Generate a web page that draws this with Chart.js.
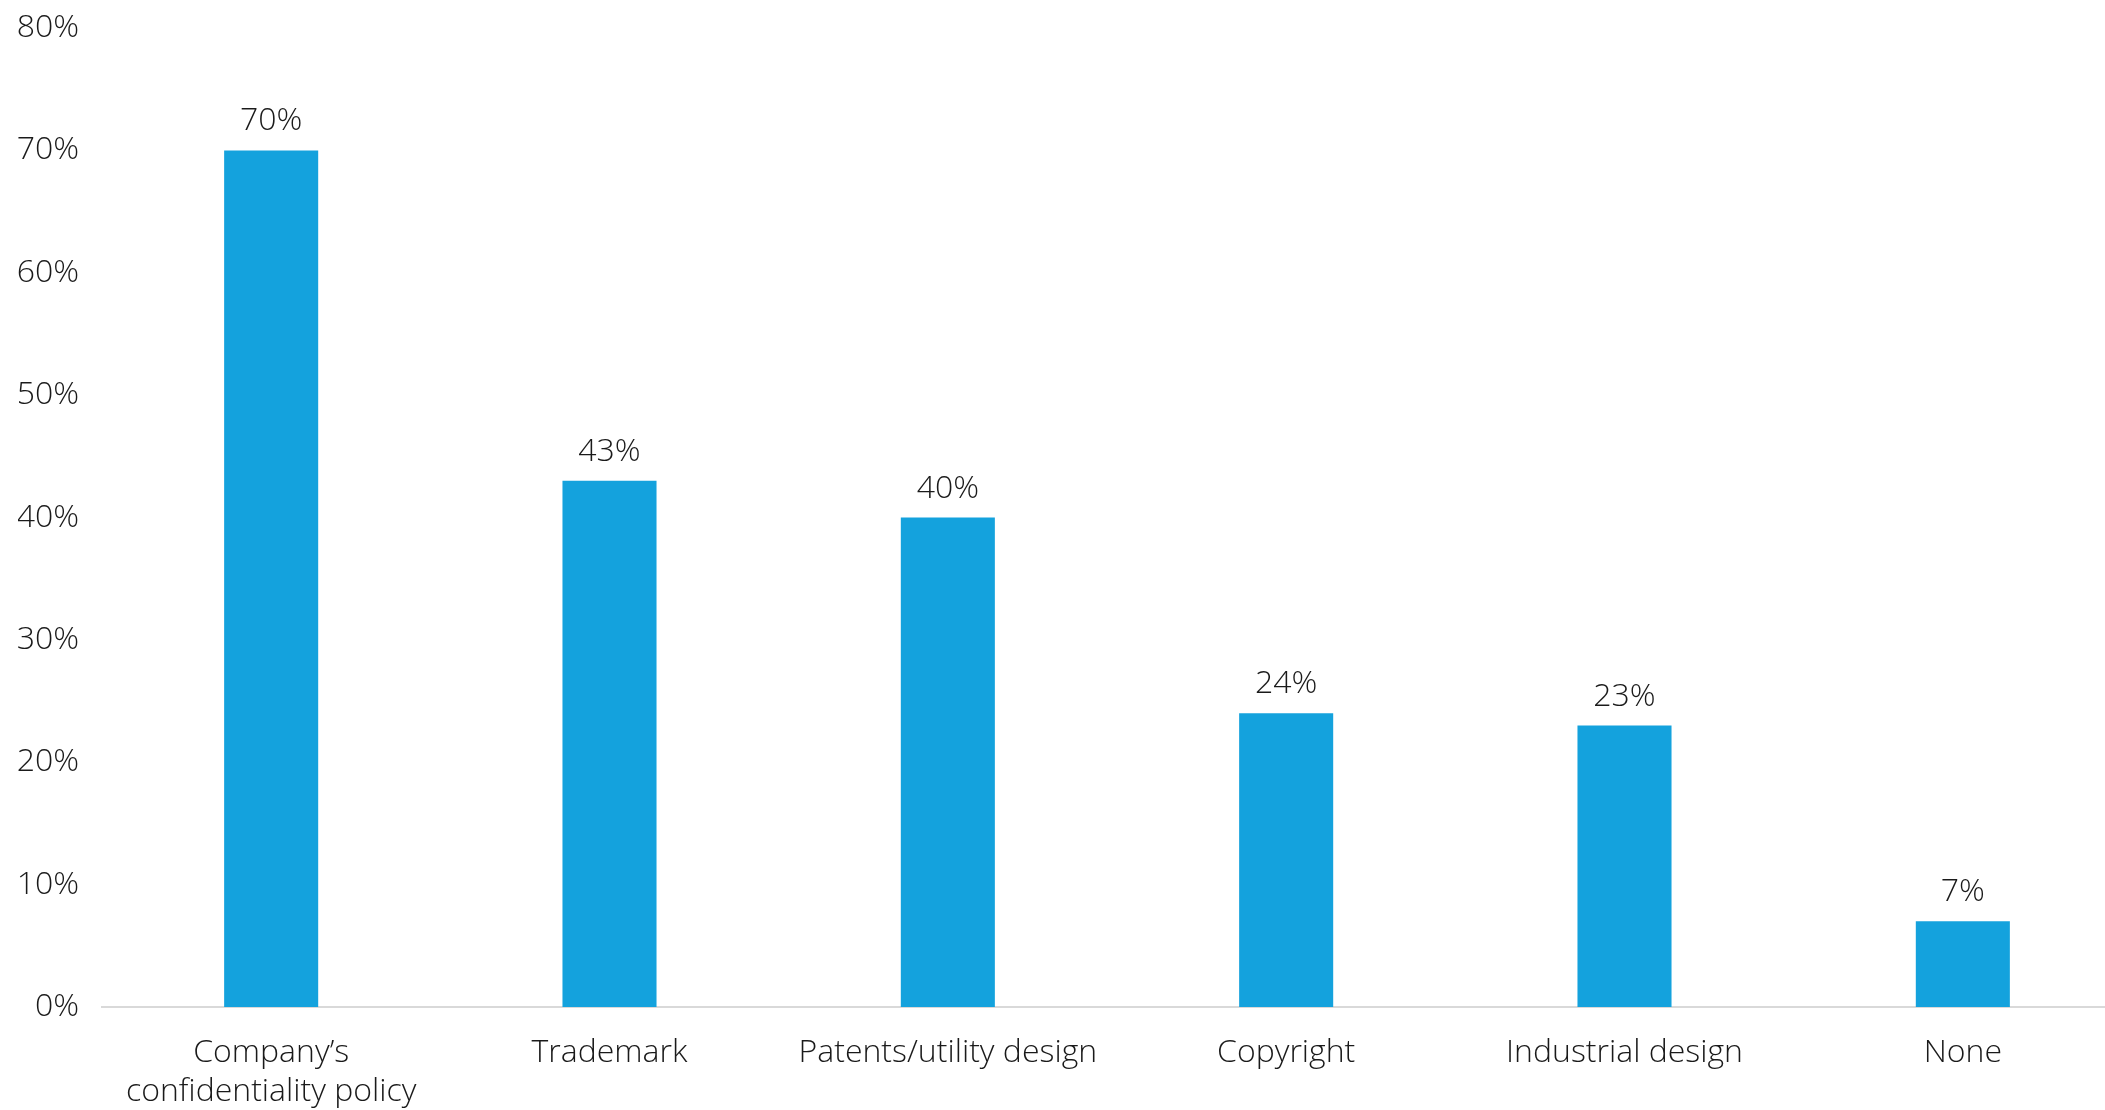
<!DOCTYPE html>
<html lang="en">
<head>
    <meta charset="UTF-8">
    <title>IP protection methods</title>
    <style>
        html, body { margin: 0; padding: 0; background: #ffffff; overflow: hidden; }
        /* plot area runs a little past the right edge, so the box is wider than the window */
        .chart-box { position: relative; width: 2132px; height: 1110px; }
    </style>
</head>
<body>

<div class="chart-box">
    <canvas id="ipChart"></canvas>
</div>

<script src="https://cdn.jsdelivr.net/npm/chart.js"></script>
<script>
    // Share of respondents by protection method
    const categories = [
        ['Company\u2019s', 'confidentiality policy'],
        'Trademark',
        'Patents/utility design',
        'Copyright',
        'Industrial design',
        'None'
    ];
    const shares = [70, 43, 40, 24, 23, 7];
    const yTicks = [0, 10, 20, 30, 40, 50, 60, 70, 80];

    const textColor = '#1a1a1a';
    const barColor = '#14a2dd';
    const fontFamily = '"Open Sans", "Noto Sans", sans-serif';

    // Percent labels written above each bar
    const valueLabels = {
        id: 'valueLabels',
        afterDatasetsDraw(chart) {
            const ctx = chart.ctx;
            const meta = chart.getDatasetMeta(0);
            ctx.save();
            ctx.font = '300 32px ' + fontFamily;
            ctx.fillStyle = textColor;
            ctx.textAlign = 'center';
            ctx.textBaseline = 'alphabetic';
            meta.data.forEach((bar, i) => {
                ctx.fillText(shares[i] + '%', bar.x, bar.y - 20);
            });
            ctx.restore();
        }
    };

    // fixed axis sizes, no extra room for overhanging labels
    function fixSize(prop, size) {
        return scale => {
            scale[prop] = size;
            scale.paddingLeft = scale.paddingRight = 0;
            scale.paddingTop = scale.paddingBottom = 0;
        };
    }

    new Chart(document.getElementById('ipChart'), {
        type: 'bar',
        data: {
            labels: categories,
            datasets: [{
                data: shares,
                backgroundColor: barColor,
                barPercentage: 0.278,
                categoryPercentage: 1
            }]
        },
        options: {
            responsive: true,
            maintainAspectRatio: false,
            animation: false,
            layout: { padding: { top: 28, left: 18, right: 0, bottom: 0 } },
            plugins: {
                legend: { display: false },
                tooltip: { enabled: false }
            },
            scales: {
                x: {
                    afterFit: fixSize('height', 103),
                    grid: { display: false, drawTicks: false },
                    border: { display: true, color: '#d9d9d9', width: 2 },
                    ticks: {
                        color: textColor,
                        padding: 26,
                        maxRotation: 0,
                        autoSkip: false,
                        font: { family: fontFamily, size: 32, weight: 300, lineHeight: 1.22 }
                    }
                },
                y: {
                    min: 0,
                    max: 80,
                    afterFit: fixSize('width', 84),
                    grid: { display: false, drawTicks: false },
                    border: { display: false },
                    afterBuildTicks(scale) {
                        scale.ticks = yTicks.map(v => ({ value: v }));
                    },
                    ticks: {
                        color: textColor,
                        padding: 23,
                        font: { family: fontFamily, size: 32, weight: 300 },
                        callback: v => v + '%'
                    }
                }
            }
        },
        plugins: [valueLabels]
    });
</script>

</body>
</html>
